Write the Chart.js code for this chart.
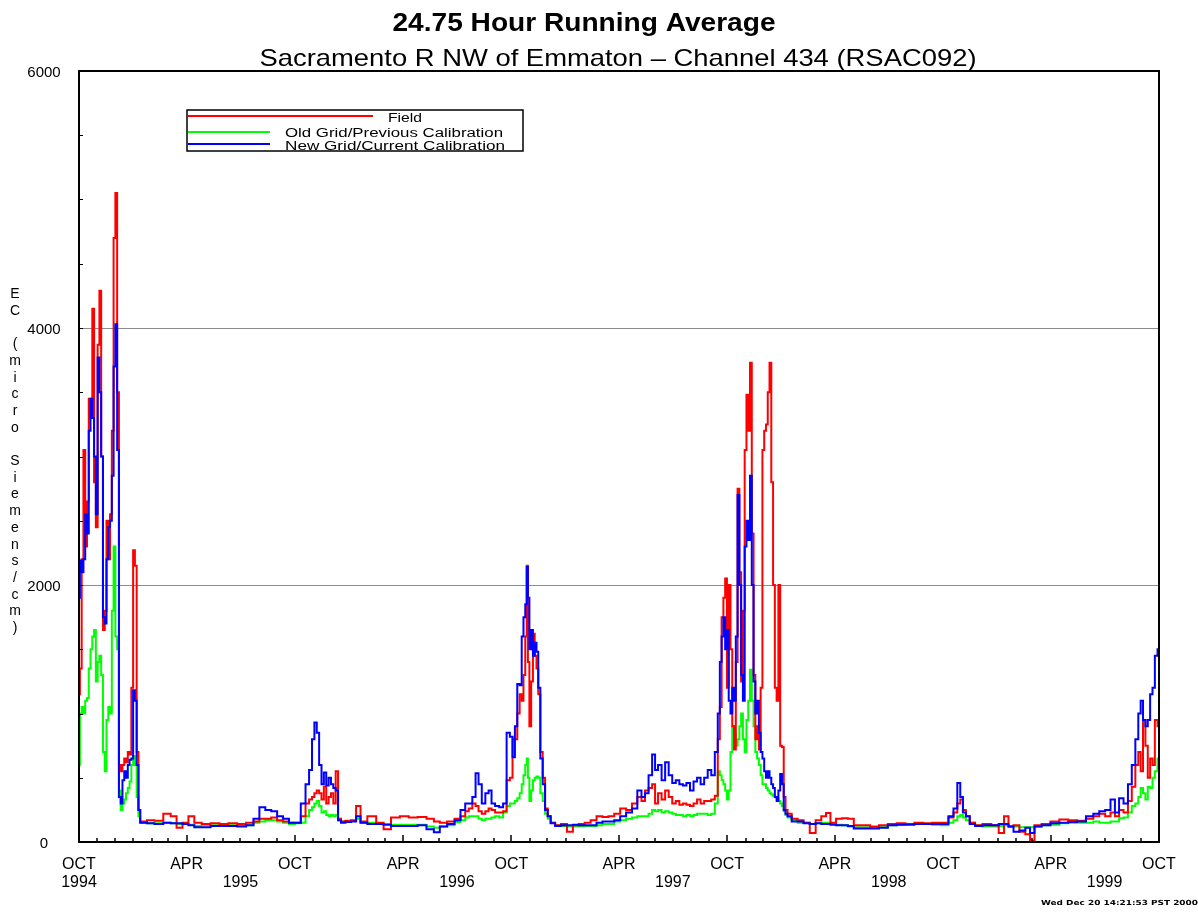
<!DOCTYPE html>
<html>
<head>
<meta charset="utf-8">
<title>24.75 Hour Running Average</title>
<script src="https://cdn.jsdelivr.net/npm/chart.js@4.4.1/dist/chart.umd.min.js"></script>
<style>
  html, body { margin: 0; padding: 0; background: #fff; }
  #wrap { width: 1198px; height: 914px; }
</style>
</head>
<body>
<div id="wrap"><canvas id="ecChart" width="1198" height="914"></canvas></div>
<script>
// day offsets from 1 Oct 1994
const days = [
    0, 3, 6, 9, 12, 15, 18, 21, 24, 27, 30, 33, 36, 39, 42, 45, 48, 51, 54, 57, 60, 63, 66, 69, 72, 75, 78, 81, 84, 87, 90, 93, 96, 99, 102, 105,
    110, 120, 135, 150, 160, 170, 180, 190, 200, 215, 230, 245, 260, 275, 290, 300, 310, 320, 330, 340, 350, 360, 370, 380, 386, 392, 396, 400, 404, 408, 412, 416, 420, 424, 428, 432, 436, 440, 446, 455, 465, 472, 480, 495, 510, 520, 535, 550, 565, 580, 595, 605, 615, 630,
    640, 650, 656, 662, 668, 673, 678, 684, 690, 695, 700, 707, 714, 720, 726, 731, 735, 739, 743, 747, 750, 753, 756, 758, 760, 763, 766, 769, 772, 775, 778, 782, 786, 790, 795, 800, 810, 820, 830, 840, 850, 860, 870, 880, 890, 900, 910, 920, 930, 940, 948, 954, 960, 966, 972, 976, 982, 988, 994, 1000, 1006, 1012, 1018, 1024, 1030, 1036, 1042, 1048,
    1054, 1060, 1066, 1072, 1078, 1082, 1085, 1088, 1091, 1094, 1097, 1100, 1103, 1106, 1109, 1112, 1115, 1118, 1121, 1124, 1127, 1130, 1133, 1136, 1139, 1142, 1145, 1148, 1151, 1154, 1157, 1160, 1163, 1166, 1169, 1172, 1175, 1178, 1181, 1184, 1187, 1190, 1193, 1196, 1200, 1210, 1220,
    1230, 1241, 1250, 1260, 1266, 1275, 1285, 1295, 1305, 1315, 1330, 1345, 1360, 1375, 1390, 1405, 1420, 1435, 1450, 1465, 1475, 1482, 1488, 1492, 1497, 1502, 1510, 1520, 1535, 1550, 1560, 1568, 1575, 1585, 1595, 1605, 1611, 1620, 1635, 1650, 1665, 1680, 1695, 1710, 1720, 1730, 1740, 1748, 1755, 1762, 1770, 1777, 1783, 1789, 1793, 1797, 1801, 1805, 1809, 1813, 1817, 1821, 1826
];

const field = [
    1150, 1350, 2200, 3050, 2300, 2650, 3450, 3300, 4150, 2800, 2450, 3870, 4290, 3000, 1650, 1800, 2500, 2200, 2550, 3200, 4700, 5050, 3500, 600, 550, 600, 650, 620, 700, 680, 1200, 2270, 2150, 700, 250, 160,
    160, 170, 165, 220, 200, 110, 150, 200, 150, 140, 145, 140, 145, 140, 150, 160, 180, 180, 190, 170, 160, 150, 150, 200, 300, 330, 350, 380, 400, 380, 330, 430, 300, 350, 380, 300, 550, 180, 160, 165, 170, 280, 160, 200, 150, 100, 190, 200, 190, 195, 180, 160, 150, 160,
    180, 200, 240, 260, 300, 280, 240, 220, 240, 260, 250, 230, 230, 240, 480, 500, 800, 800, 1000, 1150, 1100, 1300, 1600, 2150, 1400, 900, 1250, 1620, 1450, 1350, 1150, 700, 500, 260, 200, 150, 130, 140, 80, 130, 140, 150, 170, 200, 195, 200, 220, 260, 250, 300, 350, 320, 400, 420, 450, 300, 380, 330, 400, 350, 300, 320, 290, 300, 290, 280, 300, 330,
    300, 320, 320, 330, 360, 800, 1050, 1750, 1900, 2050, 1200, 2000, 1500, 900, 720, 1400, 2750, 2100, 1250, 1800, 3050, 3480, 3200, 3730, 2400, 1300, 800, 900, 720, 1200, 3050, 3200, 3250, 3500, 3730, 2800, 2000, 1200, 1100, 2000, 750, 740, 350, 250, 220, 180, 170,
    150, 70, 170, 200, 225, 150, 180, 185, 180, 130, 130, 120, 130, 140, 145, 140, 150, 145, 150, 150, 190, 230, 300, 330, 250, 200, 150, 130, 140, 130, 70, 200, 120, 130, 80, 60, 10, 130, 140, 160, 175, 170, 165, 180, 200, 220, 200, 230, 200, 250, 230, 320, 430, 600, 700, 550, 950, 750, 500, 650, 600, 950, 900
];

const oldGrid = [
    600, 1000, 1050, 1000, 1100, 1120, 1350, 1500, 1600, 1650, 1250, 1400, 1450, 1300, 700, 550, 950, 1050, 1000, 1800, 2300, 1600, 1500, 400, 250, 300, 330, 380, 420, 470, 600, 670, 600, 350, 200, 150,
    150, 145, 145, 150, 145, 140, 140, 135, 125, 130, 130, 130, 130, 125, 130, 150, 160, 170, 170, 160, 150, 140, 145, 150, 200, 250, 270, 300, 320, 280, 230, 240, 210, 200, 210, 200, 210, 170, 160, 160, 165, 180, 150, 150, 140, 140, 135, 135, 135, 135, 120, 110, 120, 130,
    155, 170, 190, 200, 200, 200, 180, 170, 180, 180, 190, 200, 190, 230, 280, 300, 300, 320, 340, 380, 450, 520, 600, 650, 500, 320, 400, 480, 500, 510, 500, 380, 320, 220, 180, 150, 130, 125, 120, 120, 120, 125, 125, 130, 140, 140, 160, 170, 180, 190, 200, 200, 200, 220, 250, 240, 250, 230, 240, 230, 220, 210, 210, 200, 210, 200, 210, 220,
    220, 220, 210, 220, 300, 550, 520, 480, 450, 400, 330, 400, 700, 900, 850, 750, 800, 900, 1000, 800, 700, 950, 1100, 1340, 1100, 900, 700, 650, 600, 520, 450, 450, 420, 400, 380, 370, 360, 350, 340, 320, 300, 280, 240, 210, 190, 170, 150,
    150, 140, 145, 150, 150, 140, 135, 130, 120, 115, 115, 110, 115, 130, 135, 140, 140, 140, 135, 130, 150, 170, 200, 210, 190, 170, 150, 130, 120, 120, 125, 130, 120, 120, 115, 115, 115, 120, 130, 135, 145, 150, 150, 150, 160, 150, 150, 160, 160, 185, 190, 230, 280, 300, 350, 420, 380, 330, 430, 420, 500, 550, 650
];

const newGrid = [
    1900, 2190, 2100, 2200, 2550, 2400, 3200, 3450, 3300, 3000, 2550, 3770, 3500, 3000, 1750, 1700, 2200, 2450, 2500, 2850, 3700, 4030, 3050, 350, 300, 480, 550, 500, 600, 640, 650, 1180, 1100, 600, 250, 150,
    150, 145, 140, 150, 145, 145, 140, 130, 115, 115, 125, 125, 125, 120, 130, 180, 270, 250, 240, 200, 180, 150, 150, 300, 450, 560, 800, 930, 850, 600, 450, 540, 440, 500, 450, 420, 400, 170, 150, 155, 160, 200, 150, 140, 140, 135, 125, 125, 125, 130, 100, 75, 120, 140,
    170, 250, 300, 300, 350, 535, 450, 300, 380, 400, 300, 280, 270, 300, 850, 820, 660, 900, 1230, 1220, 1600, 1750, 1850, 2140, 1900, 1500, 1650, 1450, 1550, 1480, 1200, 650, 450, 250, 200, 145, 125, 130, 130, 135, 130, 130, 130, 150, 160, 160, 170, 200, 230, 260, 400, 350, 380, 520, 680, 560, 600, 480, 620, 520, 460, 480, 450, 440, 460, 400, 470, 500,
    450, 500, 560, 520, 700, 1000, 1400, 1600, 1750, 1500, 1650, 1100, 1000, 1200, 1100, 1600, 2700, 2000, 1300, 1100, 2300, 2500, 2350, 2850, 2000, 1250, 1000, 1100, 850, 700, 650, 550, 500, 550, 500, 450, 420, 350, 320, 400, 530, 450, 250, 220, 200, 160, 160,
    145, 140, 145, 140, 140, 135, 130, 130, 125, 105, 105, 105, 110, 130, 135, 135, 140, 140, 140, 140, 200, 260, 460, 350, 230, 200, 140, 125, 130, 130, 140, 140, 120, 80, 90, 110, 70, 120, 130, 145, 150, 155, 160, 200, 220, 240, 250, 330, 230, 340, 300, 450, 600, 800, 1000, 1100, 950, 900, 950, 1150, 1200, 1450, 1500
];

const yTickLabels = [0, 2000, 4000, 6000];
const yGridValues = [2000, 4000];
const seasonNames = { 3: 'APR', 9: 'OCT' };
const yearText = ['1994', '1995', '1996', '1997', '1998', '1999'];
const yearDates = [[1994, 9], [1995, 6], [1996, 6], [1997, 6], [1998, 6], [1999, 6]];
const axisTitle = 'EC (micro Siemens/cm)';

const START = Date.UTC(1994, 9, 1);
function dayOf(y, m) { return (Date.UTC(y, m, 1) - START) / 864e5; }

function fitText(ctx, text, x, y, font, width, align) {
    ctx.save();
    ctx.font = font;
    const w = ctx.measureText(text).width;
    ctx.translate(x, y);
    if (width) ctx.scale(width / w, 1);
    ctx.textAlign = align || 'center';
    ctx.textBaseline = 'alphabetic';
    ctx.fillStyle = '#000';
    ctx.fillText(text, 0, 0);
    ctx.restore();
}

const frame = {
    id: 'frame',
    beforeDatasetsDraw(chart) {
        const { ctx, chartArea: a, scales: { y } } = chart;
        ctx.save();
        ctx.strokeStyle = '#8c8c8c';
        ctx.lineWidth = 1;
        yGridValues.forEach(v => {
            const py = Math.round(y.getPixelForValue(v)) + 0.5;
            ctx.beginPath();
            ctx.moveTo(a.left, py);
            ctx.lineTo(a.right, py);
            ctx.stroke();
        });
        ctx.restore();
    },
    afterDraw(chart) {
        const { ctx, chartArea: a, scales: { x, y } } = chart;
        ctx.save();

        // box
        ctx.strokeStyle = '#000';
        ctx.lineWidth = 2;
        ctx.strokeRect(a.left, a.top, a.right - a.left, a.bottom - a.top);

        // y ticks every 500, inward
        ctx.lineWidth = 1;
        for (let v = 500; v < 6000; v += 500) {
            const py = Math.round(y.getPixelForValue(v)) + 0.5;
            ctx.beginPath();
            ctx.moveTo(a.left, py);
            ctx.lineTo(a.left + 4, py);
            ctx.stroke();
        }

        // x ticks at month starts, inward
        ctx.lineWidth = 1.5;
        for (let yr = 1994, m = 10; yr < 1999 || m <= 9; m++) {
            if (m > 11) { m = 0; yr++; }
            if (yr === 1999 && m > 8) break;
            const px = Math.round(x.getPixelForValue(dayOf(yr, m)));
            const len = seasonNames[m] ? 7 : 4;
            ctx.beginPath();
            ctx.moveTo(px, a.bottom);
            ctx.lineTo(px, a.bottom - len);
            ctx.stroke();
        }

        // x labels
        for (let yr = 1994; yr <= 1999; yr++) {
            [3, 9].forEach(m => {
                const d = dayOf(yr, m);
                if (d < 0 || d > 1826) return;
                fitText(ctx, seasonNames[m], x.getPixelForValue(d), 869, '16px "Liberation Sans", Arial, sans-serif');
            });
        }
        yearText.forEach((t, i) => {
            const d = dayOf(yearDates[i][0], yearDates[i][1]);
            fitText(ctx, t, x.getPixelForValue(d), 887, '16px "Liberation Sans", Arial, sans-serif');
        });

        // y labels
        yTickLabels.forEach(v => {
            fitText(ctx, String(v), 44, y.getPixelForValue(v) + 6, '15px "Liberation Sans", Arial, sans-serif');
        });

        // vertical stacked axis title
        [...axisTitle].forEach((ch, i) => {
            if (ch === ' ') return;
            fitText(ctx, ch, 15, 298 + i * 16.7, '14px "Liberation Sans", Arial, sans-serif');
        });

        // titles
        fitText(ctx, '24.75 Hour Running Average', 584, 31, 'bold 25px "Liberation Sans", Arial, sans-serif', 383);
        fitText(ctx, 'Sacramento R NW of Emmaton \u2013 Channel 434 (RSAC092)', 618, 66, '24px "Liberation Sans", Arial, sans-serif', 717);

        // legend
        ctx.fillStyle = '#fff';
        ctx.fillRect(187, 110, 336, 41);
        ctx.lineWidth = 2;
        ctx.strokeStyle = '#ff0000';
        ctx.beginPath(); ctx.moveTo(188, 116); ctx.lineTo(373, 116); ctx.stroke();
        ctx.strokeStyle = '#00ff00';
        ctx.beginPath(); ctx.moveTo(188, 132); ctx.lineTo(270, 132); ctx.stroke();
        ctx.strokeStyle = '#0000ff';
        ctx.beginPath(); ctx.moveTo(188, 144); ctx.lineTo(270, 144); ctx.stroke();
        ctx.save();
        ctx.beginPath(); ctx.rect(187, 110, 336, 41); ctx.clip();
        fitText(ctx, 'Field', 388, 122, '12px "Liberation Sans", Arial, sans-serif', 34, 'left');
        fitText(ctx, 'Old Grid/Previous Calibration', 285, 137, '12px "Liberation Sans", Arial, sans-serif', 218, 'left');
        fitText(ctx, 'New Grid/Current Calibration', 285, 150, '12px "Liberation Sans", Arial, sans-serif', 220, 'left');
        ctx.restore();
        ctx.strokeStyle = '#000';
        ctx.lineWidth = 1.5;
        ctx.strokeRect(187, 110, 336, 41);

        // footer stamp
        fitText(ctx, 'Wed Dec 20 14:21:53 PST 2000', 1041, 905, 'bold 7px "DejaVu Sans", sans-serif', 157, 'left');

        ctx.restore();
    }
};

const toPoints = vals => days.map((d, i) => ({ x: d, y: vals[i] }));

new Chart(document.getElementById('ecChart').getContext('2d'), {
    type: 'line',
    data: {
        datasets: [
            { label: 'New Grid/Current Calibration', data: toPoints(newGrid), borderColor: '#0000ff' },
            { label: 'Field', data: toPoints(field), borderColor: '#ff0000' },
            { label: 'Old Grid/Previous Calibration', data: toPoints(oldGrid), borderColor: '#00ff00' }
        ]
    },
    options: {
        responsive: false,
        animation: false,
        devicePixelRatio: 1,
        layout: { padding: { left: 79, right: 39, top: 71, bottom: 72 } },
        elements: {
            point: { radius: 0 },
            line: { borderWidth: 2, stepped: 'middle', fill: false }
        },
        plugins: {
            legend: { display: false },
            tooltip: { enabled: false }
        },
        scales: {
            x: { type: 'linear', min: 0, max: 1826, display: false },
            y: { min: 0, max: 6000, display: false }
        }
    },
    plugins: [frame]
});
</script>
</body>
</html>
